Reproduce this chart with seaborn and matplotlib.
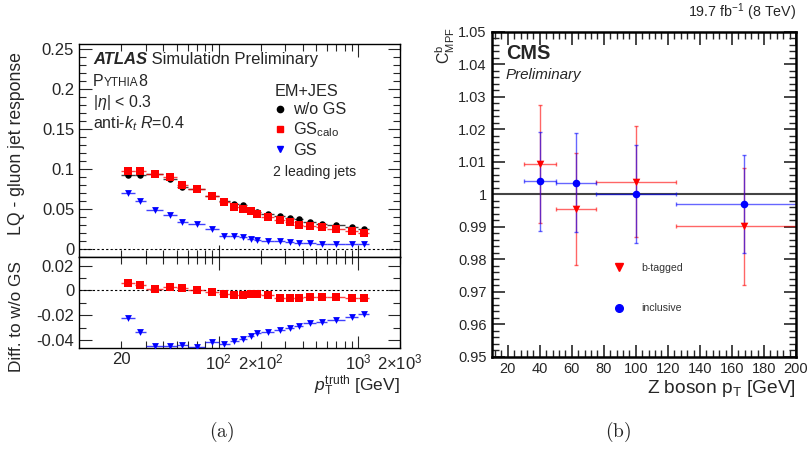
import matplotlib
matplotlib.use('Agg')
import numpy as np
import pandas as pd
import matplotlib.pyplot as plt
import matplotlib.ticker as mticker
from matplotlib.lines import Line2D
import seaborn as sns

# ---- (a) ATLAS: LQ - gluon jet response vs pT truth ----
pt_edges = [20, 25, 30, 40, 50, 60, 80, 100, 120, 140, 160, 180, 200,
            250, 300, 350, 400, 500, 600, 800, 1000, 1200]
resp_nogs = [0.092, 0.093, 0.094, 0.088, 0.078, 0.075, 0.066, 0.0596, 0.056, 0.0546, 0.049,
             0.046, 0.044, 0.041, 0.039, 0.037, 0.034, 0.031, 0.030, 0.0275, 0.0254]
resp_gscalo = [0.097, 0.097, 0.094, 0.090, 0.080, 0.0754, 0.0667, 0.0583, 0.0525, 0.050, 0.047,
               0.044, 0.040, 0.0367, 0.034, 0.0304, 0.029, 0.027, 0.025, 0.0225, 0.020]
resp_gs = [0.070, 0.0596, 0.049, 0.043, 0.034, 0.031, 0.025, 0.0167, 0.0160, 0.0154, 0.0130,
           0.0117, 0.0104, 0.0096, 0.0085, 0.0080, 0.0075, 0.0065, 0.0062, 0.0060, 0.0058]
diff_gscalo = [0.0058, 0.0040, 0.0008, 0.0029, 0.0021, 0.0000, -0.0010, -0.0026, -0.0037, -0.0040, -0.0030,
               -0.0030, -0.0040, -0.0058, -0.0058, -0.0063, -0.0050, -0.0053, -0.0053, -0.0058, -0.0058]
diff_gs = [-0.0222, -0.0338, -0.0447, -0.0445, -0.0443, -0.0455, -0.0413, -0.0430, -0.0405, -0.0392, -0.0368,
           -0.0347, -0.0333, -0.0320, -0.0307, -0.0288, -0.0264, -0.0253, -0.0235, -0.0213, -0.0193]

# ---- (b) CMS: C^b_MPF vs Z boson pT ----
zpt_lo = [30, 50, 75, 125]
zpt_hi = [50, 75, 125, 210]
cmpf_incl = [1.0040, 1.0036, 1.0002, 0.9970]
incl_err_up = [0.0150, 0.0151, 0.0148, 0.0152]
incl_err_dn = [0.0152, 0.0151, 0.0152, 0.0150]
cmpf_btag = [1.0092, 0.9955, 1.0038, 0.9903]
btag_err_up = [0.0182, 0.0173, 0.0172, 0.0179]
btag_err_dn = [0.0182, 0.0173, 0.0171, 0.0183]

sns.set_style('ticks')
plt.rcParams['font.family'] = ['Liberation Sans', 'DejaVu Sans']
plt.rcParams['mathtext.fontset'] = 'custom'
plt.rcParams['mathtext.rm'] = 'Liberation Sans'
plt.rcParams['mathtext.it'] = 'Liberation Sans:italic'
plt.rcParams['axes.edgecolor'] = 'black'

RED = '#ff0000'
BLUE = '#0000ff'

edges = np.array(pt_edges, dtype=float)
ctr = 0.5 * (edges[:-1] + edges[1:])
xerr = [ctr - edges[:-1], edges[1:] - ctr]

df_main = pd.DataFrame({'pt': ctr, 'nogs': resp_nogs, 'gscalo': resp_gscalo, 'gs': resp_gs,
                        'd_gscalo': diff_gscalo, 'd_gs': diff_gs})

fig = plt.figure(figsize=(8.07, 4.53), dpi=100)
ax1 = fig.add_axes([0.0979, 0.4327, 0.3978, 0.4702])
ax2 = fig.add_axes([0.0979, 0.2318, 0.3978, 0.2009], sharex=ax1)
ax3 = fig.add_axes([0.6093, 0.2126, 0.3771, 0.7174])


def series(ax, y, color, marker, size):
    ax.errorbar(df_main['pt'], df_main[y], xerr=xerr, yerr=0.001, fmt='none',
                ecolor=color, elinewidth=1.0, alpha=0.75, zorder=2)
    sns.scatterplot(data=df_main, x='pt', y=y, ax=ax, color=color, marker=marker,
                    s=size, linewidth=0, zorder=3, legend=False)


series(ax1, 'nogs', 'black', 'o', 22)
series(ax1, 'gscalo', RED, 's', 26)
series(ax1, 'gs', BLUE, 'v', 24)
series(ax2, 'd_gscalo', RED, 's', 26)
series(ax2, 'd_gs', BLUE, 'v', 24)

for ax in (ax1, ax2):
    ax.axhline(0, color='black', ls=(0, (2, 2)), lw=0.8, zorder=1)
    ax.set_xscale('log')
    ax.set_xlim(10, 2000)
    ax.set_xlabel('')
    ax.set_ylabel('')
    ax.tick_params(which='both', direction='in', top=True, right=True, labelsize=12)
    ax.tick_params(which='major', length=9, width=0.8)
    ax.tick_params(which='minor', length=5, width=0.8)
    ax.xaxis.set_major_locator(mticker.FixedLocator([100, 1000]))
    ax.xaxis.set_minor_locator(mticker.LogLocator(base=10, subs=np.arange(2, 10)))
    for s in ax.spines.values():
        s.set_linewidth(1.0)

ax1.set_ylim(-0.01, 0.256)
ax1.yaxis.set_major_locator(mticker.MultipleLocator(0.05))
ax1.yaxis.set_minor_locator(mticker.MultipleLocator(0.01))
ax1.yaxis.set_major_formatter(mticker.FuncFormatter(lambda v, p: '0' if abs(v) < 1e-9 else f'{v:g}'))
ax1.tick_params(which='both', labelbottom=False)

ax2.set_ylim(-0.0465, 0.027)
ax2.yaxis.set_major_locator(mticker.MultipleLocator(0.02))
ax2.yaxis.set_minor_locator(mticker.MultipleLocator(0.01))
ax2.yaxis.set_major_formatter(mticker.FuncFormatter(lambda v, p: '0' if abs(v) < 1e-9 else f'{v:g}'))
xlab = {100: r'$10^2$', 1000: r'$10^3$'}
mlab = {20: '20', 200: r'$2{\times}10^2$', 2000: r'$2{\times}10^3$'}
ax2.xaxis.set_major_formatter(mticker.FuncFormatter(lambda v, p: xlab.get(int(round(v)), '')))
ax2.xaxis.set_minor_formatter(mticker.FuncFormatter(lambda v, p: mlab.get(int(round(v)), '')))
ax2.tick_params(axis='x', which='both', pad=3)

ax1.set_ylabel('LQ - gluon jet response', fontsize=12.7)
ax2.set_ylabel('Diff. to w/o GS', fontsize=12.4)
ax1.yaxis.set_label_coords(-0.168, 0.533)
ax2.yaxis.set_label_coords(-0.172, 0.34)
ax2.set_xlabel(r'$p_{\mathrm{T}}^{\mathrm{truth}}$ [GeV]', fontsize=12.5, loc='right', labelpad=1)

t = ax1.text(0.044, 0.905, 'ATLAS', transform=ax1.transAxes, fontsize=12,
             fontweight='bold', style='italic')
ax1.annotate(' Simulation Preliminary', xy=(1, 0), xycoords=t, fontsize=12, va='bottom')
p = ax1.text(0.044, 0.805, 'P', transform=ax1.transAxes, fontsize=11.5)
p2 = ax1.annotate('YTHIA', xy=(1, 0), xycoords=p, fontsize=8.5, va='bottom')
ax1.annotate('8', xy=(1, 0), xycoords=p2, fontsize=11.5, va='bottom')
ax1.text(0.044, 0.705, r'|$\eta$| < 0.3', transform=ax1.transAxes, fontsize=11.5)
ax1.text(0.044, 0.605, r'anti-$k_t$ $R$=0.4', transform=ax1.transAxes, fontsize=11.5)

handles = [Line2D([], [], ls='none', marker='o', color='black', ms=4.5),
           Line2D([], [], ls='none', marker='s', color=RED, ms=5),
           Line2D([], [], ls='none', marker='v', color=BLUE, ms=5)]
leg = ax1.legend(handles, ['w/o GS', r'GS$_{\mathrm{calo}}$', 'GS'], title='EM+JES',
                 loc='upper left', bbox_to_anchor=(0.585, 0.85), frameon=False,
                 fontsize=11.7, title_fontsize=11.7, handlelength=0.6, handletextpad=0.5,
                 labelspacing=0.2, borderpad=0)
leg._legend_box.align = 'left'
ax1.text(0.603, 0.378, '2 leading jets', transform=ax1.transAxes, fontsize=10.1)

# ---- right panel ----
zlo = np.array(zpt_lo, dtype=float)
zhi = np.array(zpt_hi, dtype=float)
zc = 0.5 * (zlo + zhi)
df_cms = pd.DataFrame({'zpt': zc, 'incl': cmpf_incl, 'btag': cmpf_btag})

ax3.axhline(1.0, color='#444444', lw=1.5, zorder=1)
ax3.errorbar(zc, cmpf_btag, xerr=[zc - zlo, zhi - zc], yerr=[btag_err_dn, btag_err_up],
             fmt='none', ecolor=RED, elinewidth=1.0, capsize=1.5, alpha=0.6, zorder=2)
ax3.errorbar(zc, cmpf_incl, xerr=[zc - zlo, zhi - zc], yerr=[incl_err_dn, incl_err_up],
             fmt='none', ecolor=BLUE, elinewidth=1.0, capsize=1.5, alpha=0.6, zorder=2)
sns.scatterplot(data=df_cms, x='zpt', y='btag', ax=ax3, color=RED, marker='v', s=30,
                linewidth=0, zorder=3, legend=False)
sns.scatterplot(data=df_cms, x='zpt', y='incl', ax=ax3, color=BLUE, marker='o', s=30,
                linewidth=0, zorder=3, legend=False)
ax3.set_xlim(10, 200)
ax3.set_ylim(0.95, 1.05)
ax3.xaxis.set_major_locator(mticker.MultipleLocator(20))
ax3.xaxis.set_minor_locator(mticker.MultipleLocator(4))
ax3.yaxis.set_major_locator(mticker.MultipleLocator(0.01))
ax3.yaxis.set_minor_locator(mticker.MultipleLocator(0.002))
ax3.yaxis.set_major_formatter(mticker.FuncFormatter(lambda v, p: '1' if abs(v - 1) < 1e-9 else f'{v:.2f}'))
ax3.tick_params(which='both', direction='in', top=True, right=True, labelsize=10.5)
ax3.tick_params(which='major', length=9, width=1.2)
ax3.tick_params(which='minor', length=5, width=1.0)
for s in ax3.spines.values():
    s.set_linewidth(1.8)
ax3.set_xlabel(r'Z boson p$_{\mathrm{T}}$ [GeV]', fontsize=13.8, loc='right', labelpad=2)
ax3.set_ylabel(r'C$^{\mathrm{b}}_{\mathrm{MPF}}$', fontsize=11.5, loc='top')
ax3.yaxis.set_label_coords(-0.115, 1.015)
ax3.text(0.047, 0.915, 'CMS', transform=ax3.transAxes, fontsize=14.3, fontweight='bold')
ax3.text(0.047, 0.853, 'Preliminary', transform=ax3.transAxes, fontsize=10.9, style='italic')
ax3.text(1.0, 1.045, r'19.7 fb$^{-1}$ (8 TeV)', transform=ax3.transAxes, fontsize=10.3, ha='right')

h2 = [Line2D([], [], ls='none', marker='v', color=RED, ms=5.5),
      Line2D([], [], ls='none', marker='o', color=BLUE, ms=5.5)]
ax3.legend(h2, ['b-tagged', 'inclusive'], loc='upper left', bbox_to_anchor=(0.385, 0.305),
           frameon=False, fontsize=7.6, labelcolor='#333333', handlelength=1.0,
           handletextpad=1.6, labelspacing=2.9, borderpad=0)

fig.text(0.275, 0.035, r'$\mathrm{(a)}$', ha='center', fontsize=14, math_fontfamily='cm')
fig.text(0.766, 0.035, r'$\mathrm{(b)}$', ha='center', fontsize=14, math_fontfamily='cm')

fig.savefig('out.png', dpi=100)
